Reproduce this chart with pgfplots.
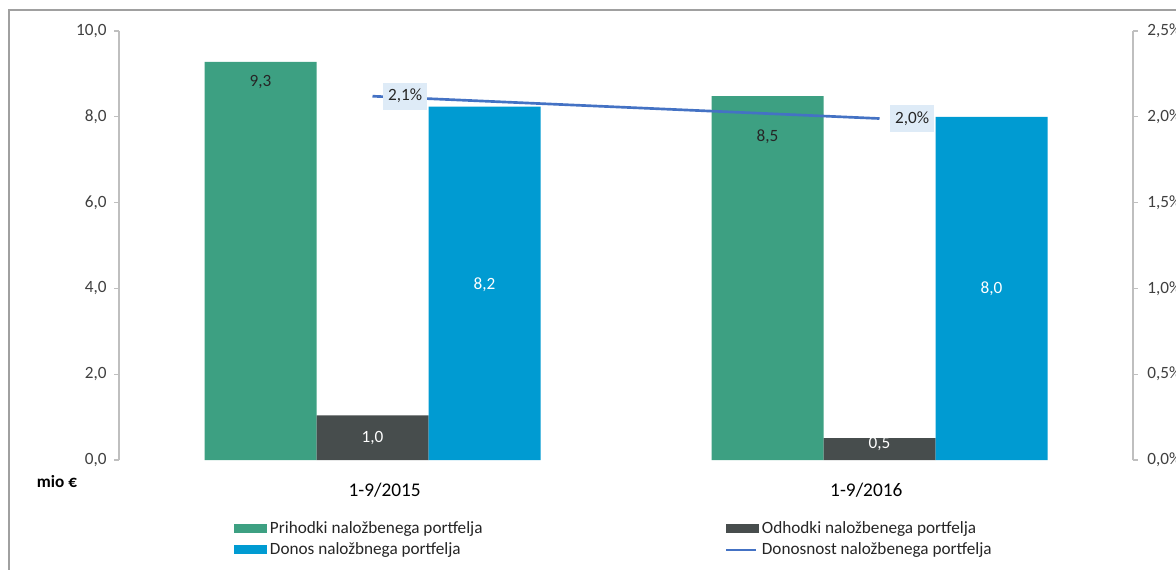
\documentclass[border=0pt]{standalone}
\usepackage{fontspec}
\setmainfont{Carlito}
\usepackage{pgfplots}
\usepackage{pgfplotstable}
\pgfplotsset{compat=1.18}
\definecolor{cgreen}{HTML}{3DA082}
\definecolor{cdark}{HTML}{474D4D}
\definecolor{cblue}{HTML}{009BD2}
\definecolor{cline}{HTML}{4472C4}
\definecolor{cbox}{HTML}{DEEBF7}
\definecolor{caxis}{HTML}{BFBFBF}
\definecolor{cframe}{HTML}{A0A0A0}
\definecolor{ctext}{HTML}{404040}

\pgfplotstableread{
x y dy
0 9.28 -15.1
1 8.48 -30.6
}\green
\pgfplotstableread{
x y dy
0 1.04 -17.0
1 0.51 -4.5
}\dark
\pgfplotstableread{
x y dy
0 8.24 -133.9
1 8.00 -129.1
}\blue

\newcommand{\tfont}{\fontsize{12.9}{15}\selectfont}
\pgfplotsset{
  barlab/.style={
    nodes near coords={\pgfmathprintnumber[fixed,fixed zerofill,precision=1,use comma,assume math mode=true]{\pgfplotspointmeta}},
    visualization depends on={\thisrow{dy}\as\dy},
    every node near coord/.append style={anchor=center, yshift=\dy*1pt, font=\tfont, text=#1},
  },
  box legend/.style={legend image code/.code={\fill[##1] (0pt,-3.4pt) rectangle (24.75pt,3.4pt);}},
  myline legend/.style={legend image code/.code={\draw[##1] (0pt,0pt) -- (22.5pt,0pt);}},
}
\begin{document}
\begin{tikzpicture}[x=1pt,y=1pt]
\useasboundingbox (0,0) rectangle (882,426.75);
\fill[white] (0,0) rectangle (882,426.75);
\draw[cframe, line width=1pt] (6.75,-2) -- (6.75,419.25) -- (884,419.25);
\node[font=\bfseries\fontsize{12.9}{15}\selectfont, text=black] at (42.75,65.25) {mio €};

\begin{axis}[
  at={(89.25pt,81.75pt)}, anchor=south west,
  scale only axis, width=760.5pt, height=321.75pt,
  xmin=-0.5, xmax=1.5, ymin=0, ymax=10,
  ybar=0pt, bar width=84pt,
  axis y line*=left, axis x line*=bottom,
  separate axis lines,
  x axis line style={draw=none},
  y axis line style={caxis, line width=0.8pt},
  xtick={0.024,0.974}, xticklabels={1-9/2015,1-9/2016},
  xtick style={draw=none},
  xticklabel style={anchor=center, yshift=-19pt, font=\fontsize{14.5}{17}\selectfont, text=black},
  ytick={0,2,...,10},
  tick align=outside, major tick length=3.5pt,
  ytick style={caxis, line width=0.8pt},
  yticklabel style={font=\tfont, text=ctext, xshift=-2.2pt,
    /pgf/number format/.cd, fixed, fixed zerofill, precision=1, use comma, assume math mode=true},
  box legend,
  legend style={at={(axis description cs:0.1134,-0.136)}, anchor=north west,
    draw=none, fill=none, inner sep=0pt, font=\tfont, text=black!85, row sep=1.5pt,
    /tikz/every even column/.append style={column sep=180pt}},
  legend columns=2, legend cell align=left,
]
\addplot[fill=cgreen, draw=none, barlab=black!85] table[x=x,y=y] {\green};
\addlegendentry{Prihodki naložbenega portfelja}
\addplot[fill=cdark, draw=none, barlab=white] table[x=x,y=y] {\dark};
\addlegendentry{Odhodki naložbenega portfelja}
\addplot[fill=cblue, draw=none, barlab=white] table[x=x,y=y] {\blue};
\addlegendentry{Donos naložbnega portfelja}
\addlegendimage{myline legend, cline, line width=1.5pt}
\addlegendentry{Donosnost naložbenega portfelja}
\end{axis}

\begin{axis}[
  at={(89.25pt,81.75pt)}, anchor=south west,
  scale only axis, width=760.5pt, height=321.75pt,
  xmin=-0.5, xmax=1.5, ymin=0, ymax=2.5,
  axis y line*=right, axis x line=none,
  y axis line style={caxis, line width=0.8pt},
  ytick={0,0.5,...,2.5},
  tick align=outside, major tick length=3.5pt,
  ytick style={caxis, line width=0.8pt},
  yticklabel={\pgfmathprintnumber[fixed,fixed zerofill,precision=1,use comma,assume math mode=true]{\tick}\%},
  yticklabel style={font=\tfont, text=ctext, xshift=3.7pt},
]
\addplot[cline, line width=2pt, mark=none,
  nodes near coords={\pgfmathprintnumber[fixed,fixed zerofill,precision=1,use comma,assume math mode=true]{\pgfplotspointmeta}\%},
  every node near coord/.append style={anchor=west, xshift=7pt, fill=cbox, text=black!85, font=\tfont, inner xsep=3.75pt, minimum height=20pt}]
  coordinates {(0,2.12) (1,1.99)};
\end{axis}
\end{tikzpicture}
\end{document}
